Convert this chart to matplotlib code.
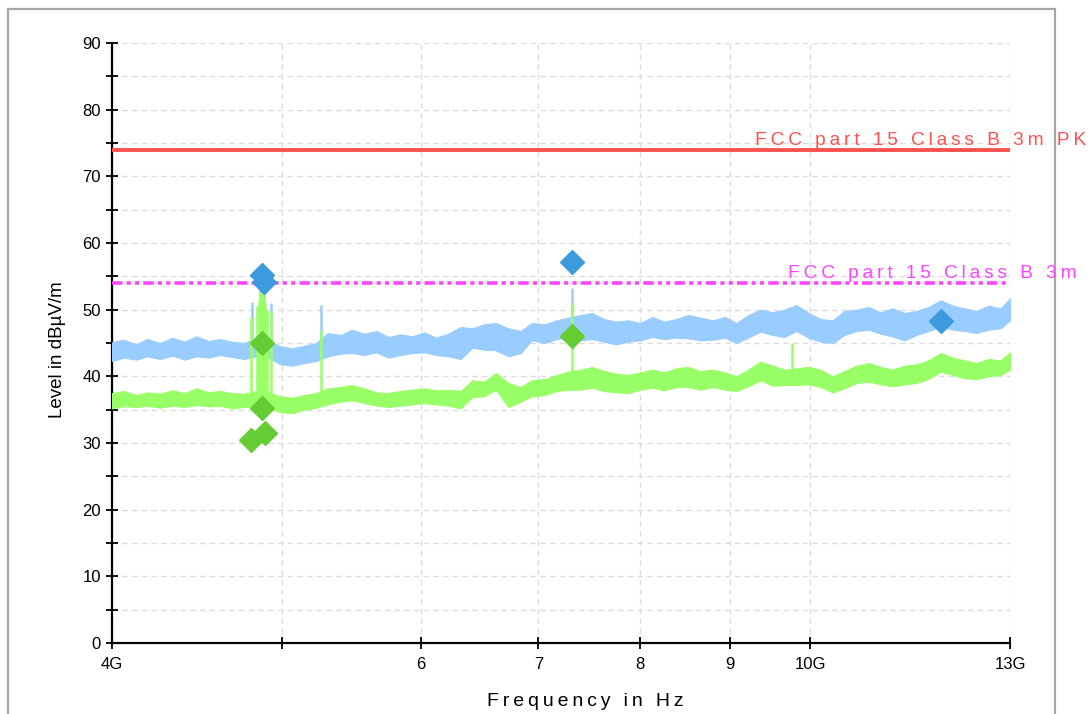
import numpy as np
import matplotlib
matplotlib.use("Agg")
import matplotlib.pyplot as plt
from matplotlib.patches import Rectangle
from matplotlib.ticker import FixedLocator, MultipleLocator, NullLocator

plt.rcParams['font.family'] = ['Liberation Sans', 'DejaVu Sans']
plt.rcParams['lines.scale_dashes'] = False

# sweep frequencies in GHz
freq_ghz = [4.00, 4.06, 4.13, 4.19, 4.26, 4.33, 4.40, 4.47, 4.54, 4.61,
            4.68, 4.76, 4.83, 4.91, 4.99, 5.07, 5.15, 5.23, 5.31, 5.40,
            5.48, 5.57, 5.66, 5.75, 5.84, 5.93, 6.03, 6.12, 6.22, 6.32,
            6.42, 6.52, 6.62, 6.73, 6.84, 6.94, 7.06, 7.17, 7.28, 7.40,
            7.51, 7.63, 7.75, 7.88, 8.00, 8.13, 8.26, 8.39, 8.52, 8.66,
            8.80, 8.94, 9.08, 9.22, 9.37, 9.52, 9.67, 9.82, 9.98, 10.14,
            10.30, 10.46, 10.63, 10.80, 10.97, 11.14, 11.32, 11.50, 11.68, 11.87,
            12.06, 12.25, 12.44, 12.64, 12.84, 13.00]

# peak trace envelope (dBuV/m)
pk_hi = [45.1, 45.5, 44.8, 45.6, 45.0, 45.8, 45.2, 46.0, 45.3, 45.6,
         45.2, 45.0, 45.8, 45.4, 44.5, 44.2, 44.6, 45.0, 46.5, 46.2,
         47.0, 46.4, 46.8, 45.9, 46.3, 46.0, 46.6, 45.8, 46.4, 47.4,
         47.2, 47.8, 48.0, 47.2, 46.8, 48.0, 47.8, 48.4, 48.8, 49.2,
         49.5, 48.6, 48.2, 48.4, 48.0, 48.9, 48.2, 48.6, 49.2, 48.8,
         48.4, 48.9, 48.0, 49.2, 50.0, 49.6, 50.0, 50.7, 49.5, 48.6,
         48.4, 49.8, 50.0, 50.4, 49.6, 50.2, 49.5, 49.8, 50.4, 51.4,
         50.6, 50.2, 49.8, 50.6, 50.2, 51.7]
pk_lo = [42.3, 42.8, 42.5, 43.0, 42.6, 43.1, 42.5, 43.0, 42.8, 43.2,
         42.9, 42.6, 43.0, 42.8, 41.8, 41.6, 42.0, 42.3, 43.0, 43.4,
         43.5, 43.2, 43.6, 42.8, 43.2, 43.5, 43.6, 43.2, 43.0, 42.6,
         44.3, 44.0, 43.9, 43.0, 43.5, 45.4, 45.0, 45.6, 45.8, 45.4,
         45.6, 45.2, 44.8, 45.2, 45.4, 45.9, 45.6, 45.8, 45.7, 45.4,
         45.5, 45.8, 45.0, 45.8, 46.7, 46.2, 45.9, 46.8, 45.8, 45.2,
         45.0, 46.2, 46.8, 47.0, 46.4, 46.0, 45.4, 46.2, 46.8, 47.4,
         47.0, 46.8, 46.5, 47.0, 47.2, 48.4]

# average trace envelope (dBuV/m)
av_hi = [37.5, 37.8, 37.2, 37.6, 37.4, 37.9, 37.5, 38.2, 37.6, 37.8,
         37.5, 37.4, 37.8, 37.6, 37.0, 36.8, 37.2, 37.5, 38.2, 38.4,
         38.7, 38.2, 37.6, 37.5, 37.8, 38.0, 38.2, 37.9, 38.0, 37.8,
         39.4, 39.2, 40.5, 39.0, 38.4, 39.4, 39.6, 40.2, 40.7, 41.0,
         41.4, 40.8, 40.4, 40.2, 40.6, 41.0, 40.6, 41.2, 41.4, 40.8,
         41.0, 40.6, 40.0, 41.0, 42.2, 41.6, 41.0, 41.2, 41.4, 41.0,
         40.0, 40.8, 41.6, 42.0, 41.4, 41.0, 41.6, 41.8, 42.4, 43.5,
         42.8, 42.4, 42.0, 42.6, 42.4, 43.6]
av_lo = [35.2, 35.5, 35.4, 35.6, 35.3, 35.6, 35.4, 35.7, 35.5, 35.6,
         35.2, 35.4, 35.5, 35.3, 34.6, 34.5, 35.0, 35.3, 35.8, 36.2,
         36.4, 36.0, 35.6, 35.4, 35.6, 35.8, 36.0, 35.8, 35.6, 35.2,
         36.9, 37.0, 38.0, 35.4, 36.2, 37.0, 37.2, 37.8, 38.0, 38.0,
         38.3, 37.8, 37.6, 37.5, 38.0, 38.3, 37.9, 38.4, 38.4, 38.0,
         38.4, 38.0, 37.8, 38.5, 39.4, 38.6, 38.7, 38.7, 38.8, 38.4,
         37.6, 38.2, 39.0, 39.2, 38.8, 38.5, 38.8, 39.0, 39.6, 40.7,
         40.2, 39.7, 39.6, 40.0, 40.2, 41.0]

# narrow spikes
pk_spike_f = [4.81, 4.86, 4.87, 4.88, 4.93, 5.26, 7.32]
pk_spike_top = [51.2, 53.0, 53.0, 52.6, 51.0, 50.7, 53.3]
pk_spike_base = [43.0, 43.0, 43.0, 43.0, 43.0, 43.0, 45.5]
av_spike_f = [4.80, 4.84, 4.85, 4.86, 4.87, 4.88, 4.89, 4.90, 4.93, 5.26, 7.32, 9.77]
av_spike_top = [48.9, 50.5, 51.5, 52.6, 52.8, 52.0, 51.0, 50.0, 49.6, 47.0, 51.0, 45.0]
av_spike_base = [35.5, 35.5, 35.5, 35.5, 35.5, 35.5, 35.5, 35.5, 35.5, 36.5, 38.0, 39.0]

# final measurement markers
pk_mark_f = [4.87, 4.88, 7.32, 11.87]
pk_mark_v = [55.2, 54.1, 57.1, 48.3]
av_mark_f = [4.80, 4.87, 4.87, 4.89, 7.32]
av_mark_v = [30.4, 35.2, 45.0, 31.5, 46.0]

# limits
limit_pk = 74.0
limit_av = 54.0
limit_pk_label = "FCC part 15 Class B 3m PK"
limit_av_label = "FCC part 15 Class B 3m"

xtick_ghz = [4, 5, 6, 7, 8, 9, 10, 13]
xtick_labels = ["4G", "", "6", "7", "8", "9", "10G", "13G"]


def spaced(s):
    return "\u2009".join(s)


W, H = 1091, 714
fig = plt.figure(figsize=(W / 100, H / 100), dpi=100)
ax = fig.add_axes([112 / W, 1 - 643 / H, (1010 - 112) / W, 600 / H])
ax.set_xscale("log")
ax.set_xlim(4e9, 13e9)
ax.set_ylim(0, 90)

f = np.array(freq_ghz) * 1e9
ax.fill_between(f, pk_lo, pk_hi, color="#99CCFF", lw=0.8, ec="#99CCFF", zorder=3)
ax.vlines(np.array(pk_spike_f) * 1e9, pk_spike_base, pk_spike_top,
          color="#99CCFF", lw=1.8, zorder=3)
ax.fill_between(f, av_lo, av_hi, color="#99FF66", lw=0.8, ec="#99FF66", zorder=4)
ax.vlines(np.array(av_spike_f) * 1e9, av_spike_base, av_spike_top,
          color="#99FF66", lw=1.8, zorder=4)

ax.axhline(limit_pk, color="#FF5050", lw=2.8, zorder=5)
ax.axhline(limit_av, color="#FF44FF", lw=2.6, zorder=5,
           dashes=(7.5, 3, 3, 3, 3, 3))

ax.plot(np.array(av_mark_f) * 1e9, av_mark_v, ls="none", marker="D", ms=12,
        color="#66CC33", zorder=6)
ax.plot(np.array(pk_mark_f) * 1e9, pk_mark_v, ls="none", marker="D", ms=12,
        color="#3D9BDD", zorder=6)

ax.xaxis.set_major_locator(FixedLocator([v * 1e9 for v in xtick_ghz]))
ax.xaxis.set_minor_locator(NullLocator())
ax.set_xticklabels(xtick_labels)
ax.yaxis.set_major_locator(MultipleLocator(10))
ax.yaxis.set_minor_locator(MultipleLocator(5))
ax.tick_params(which="both", direction="inout", length=8, width=1.3,
               colors="black", labelsize=12, pad=4)
ax.tick_params(axis="x", pad=6)
for s in ["top", "right"]:
    ax.spines[s].set_visible(False)
for s in ["left", "bottom"]:
    ax.spines[s].set_linewidth(1.6)
ax.grid(which="both", color="#DCDCDC", ls=(0, (4, 3)), lw=1)
ax.set_axisbelow(True)

fig.text(57 / W, 1 - 350 / H, "Level in dBµV/m", rotation=90,
         ha="center", va="center", fontsize=13.5)
fig.text(585 / W, 1 - 701 / H, spaced("Frequency in Hz"),
         ha="center", va="center", fontsize=14)

fig.text(755 / W, 1 - 145 / H, spaced(limit_pk_label), color="#FF5050",
         fontsize=13.8, ha="left", va="baseline")
fig.text(788 / W, 1 - 278 / H, spaced(limit_av_label), color="#FF44FF",
         fontsize=13.8, ha="left", va="baseline")

fig.patches.append(Rectangle((8 / W, -0.05), (1055 - 8) / W, 1.05 - 9 / H,
                             transform=fig.transFigure, fill=False,
                             edgecolor="#A6A6A6", lw=1.6))

fig.savefig("out.png", dpi=100)
